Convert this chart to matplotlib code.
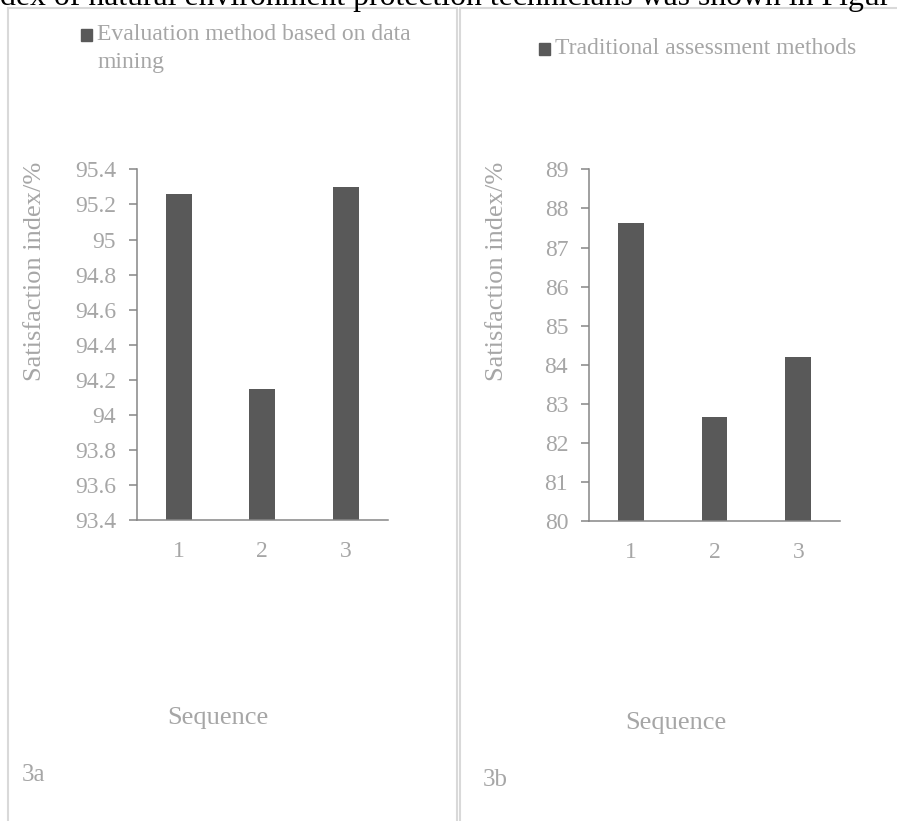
import matplotlib.pyplot as plt
from matplotlib.lines import Line2D
from matplotlib.patches import Rectangle

# data
seq = ["1", "2", "3"]
dm_vals = [95.26, 94.15, 95.30]
trad_vals = [87.63, 82.66, 84.20]
dm_ticks = [93.4, 93.6, 93.8, 94.0, 94.2, 94.4, 94.6, 94.8, 95.0, 95.2, 95.4]
dm_ticklabels = ["93.4", "93.6", "93.8", "94", "94.2", "94.4", "94.6", "94.8", "95", "95.2", "95.4"]
trad_ticks = [80, 81, 82, 83, 84, 85, 86, 87, 88, 89]
trad_ticklabels = ["80", "81", "82", "83", "84", "85", "86", "87", "88", "89"]
legend_a = "Evaluation method based on data\nmining"
legend_b = "Traditional assessment methods"
top_line = "dex of natural environment protection technicians was shown in Figur"

BAR = "#595959"
TXT = "#a6a6a6"
AXC = "#868686"
BORDER = "#d9d9d9"
W, H = 897, 821

plt.rcParams["font.family"] = ["Liberation Serif", "DejaVu Serif"]

fig = plt.figure(figsize=(W / 100, H / 100), dpi=100)


def px(x, y):
    # pixel (from top-left) -> figure fraction
    return x / W, 1 - y / H


# panel borders
for xs, ys in [([8.3, 8.3], [H + 5, 8.3]), ([8.3, 456.7], [8.3, 8.3]),
               ([456.7, 456.7], [8.3, H + 5]), ([460, 460], [H + 5, 8.3]),
               ([460, W + 5], [8.3, 8.3])]:
    fig.add_artist(Line2D([x / W for x in xs], [1 - y / H for y in ys],
                          color=BORDER, lw=1.5, transform=fig.transFigure))

fig.text(0, 1 - 5 / H, top_line, ha="left", va="baseline", fontsize=22.9, color="black")


def panel(rect, vals, ticks, ticklabels, ylim, ylab_xy, xlab_xy, leg_xy, leg_text, tag, tag_xy):
    ax = fig.add_axes(rect)
    bars = ax.bar(range(len(seq)), vals, width=0.31, color=BAR, zorder=2)
    ax.set_xlim(-0.5, len(seq) - 0.5)
    ax.set_ylim(*ylim)
    ax.set_xticks(range(len(seq)))
    ax.set_xticklabels(seq)
    ax.set_yticks(ticks)
    ax.set_yticklabels(ticklabels)
    for s in ["top", "right"]:
        ax.spines[s].set_visible(False)
    for s in ["left", "bottom"]:
        ax.spines[s].set_color(AXC)
        ax.spines[s].set_linewidth(1.1)
    ax.tick_params(axis="y", length=5.8, width=1.1, color=AXC, labelcolor=TXT, labelsize=17, pad=9)
    ax.tick_params(axis="x", length=0, labelcolor=TXT, labelsize=17, pad=15)
    ax.set_ylabel("Satisfaction index/%", fontsize=19, color=TXT, va="center", ha="center")
    ax.yaxis.set_label_coords(*ylab_xy)
    ax.set_xlabel("Sequence", fontsize=19, color=TXT, va="center", ha="center")
    ax.xaxis.set_label_coords(*xlab_xy)
    # legend swatch + label
    lx, ly = leg_xy
    fig.add_artist(Rectangle(px(lx, ly + 12), 11 / W, 12 / H, color=bars[0].get_facecolor(),
                             transform=fig.transFigure))
    fig.text(*px(lx + 16, ly - 5), leg_text, ha="left", va="top", fontsize=17,
             color=TXT, linespacing=1.45)
    fig.text(*px(*tag_xy), tag, ha="left", va="center", fontsize=18, color=TXT)
    return ax


panel([136.7 / W, 1 - 520.3 / H, 251.3 / W, 351 / H], dm_vals, dm_ticks, dm_ticklabels,
      (93.4, 95.4), (-0.405, 0.709), (0.3235, -0.563), (81, 29),
      legend_a, "3a", (22, 775))
panel([588.7 / W, 1 - 521.3 / H, 251.6 / W, 352 / H], trad_vals, trad_ticks, trad_ticklabels,
      (80, 89), (-0.3645, 0.710), (0.347, -0.573), (538.7, 43),
      legend_b, "3b", (483, 780))

fig.savefig("out.png", dpi=100)
